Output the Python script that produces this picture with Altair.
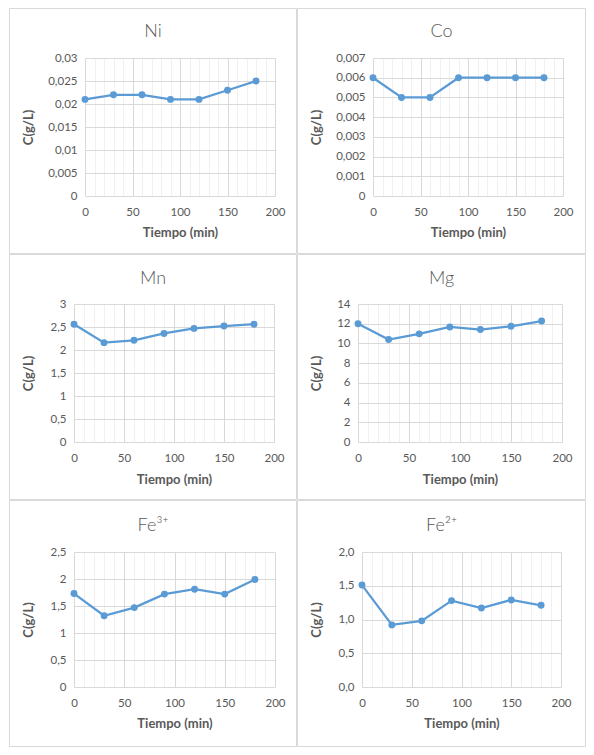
import altair as alt
import pandas as pd

# time axis (min) and concentrations (g/L)
tiempo = [0, 30, 60, 90, 120, 150, 180]
ni = [0.021, 0.022, 0.022, 0.021, 0.021, 0.023, 0.025]
co = [0.006, 0.005, 0.005, 0.006, 0.006, 0.006, 0.006]
mn = [2.56, 2.16, 2.21, 2.36, 2.47, 2.52, 2.56]
mg = [12.0, 10.4, 10.97, 11.67, 11.41, 11.74, 12.27]
fe3 = [1.73, 1.32, 1.47, 1.72, 1.81, 1.72, 1.99]
fe2 = [1.51, 0.92, 0.98, 1.28, 1.17, 1.29, 1.21]

ni_ticks = [0, 0.005, 0.01, 0.015, 0.02, 0.025, 0.03]
co_ticks = [0, 0.001, 0.002, 0.003, 0.004, 0.005, 0.006, 0.007]
mn_ticks = [0, 0.5, 1, 1.5, 2, 2.5, 3]
mg_ticks = [0, 2, 4, 6, 8, 10, 12, 14]
fe3_ticks = [0, 0.5, 1, 1.5, 2, 2.5]
fe2_ticks = [0, 0.5, 1, 1.5, 2]
x_grid = list(range(0, 201, 10))

BLUE = "#5B9BD5"
GREY = "#595959"


def panel(name, conc, yticks, fmt, W, H, left, right, top, bottom, title_y, xtitle_y):
    pw = W - left - right
    ph = H - top - bottom
    df = pd.DataFrame({"t": tiempo, "c": conc})

    line = alt.Chart(df).mark_line(
        color=BLUE, strokeWidth=2.25,
        point=alt.OverlayMarkDef(filled=True, size=48, color=BLUE, opacity=1)
    ).encode(
        x=alt.X("t:Q", scale=alt.Scale(domain=[0, 200], nice=False),
                axis=alt.Axis(values=x_grid, title="Tiempo (min)",
                              labelExpr="datum.value % 50 === 0 ? datum.label : ''",
                              labelFlush=False, labelOverlap=False, labelPadding=10,
                              gridColor={"condition": {"test": "datum.value % 50 === 0",
                                                       "value": "#d9d9d9"},
                                         "value": "#f0f0f0"},
                              titleY=xtitle_y, titleBaseline="middle")),
        y=alt.Y("c:Q", scale=alt.Scale(domain=[0, yticks[-1]], nice=False),
                axis=alt.Axis(values=yticks, title="C(g/L)",
                              labelExpr="replace(format(datum.value, '%s'), '.', ',')" % fmt,
                              labelFlush=False, labelOverlap=False, labelPadding=8,
                              gridColor="#d9d9d9",
                              titleX=19 - left, titleY=ph / 2, titleAngle=270,
                              titleAlign="center", titleBaseline="middle"))
    )

    frame = alt.Chart(pd.DataFrame({"k": [0]})).mark_rect(
        filled=False, stroke="#d9d9d9", strokeWidth=1
    ).encode(
        x=alt.value(0.5 - left), x2=alt.value(W - left - 0.5),
        y=alt.value(0.5 - top), y2=alt.value(H - top - 0.5)
    )

    head = alt.Chart(pd.DataFrame({"n": [name]})).mark_text(
        font="Lato", fontSize=18, fontWeight=300, color=GREY
    ).encode(
        text="n:N", x=alt.value(W / 2 - left), y=alt.value(title_y - top)
    )

    return alt.layer(frame, line, head).properties(width=pw, height=ph)


def spacer():
    # 1px first cell so every row starts at the same left edge
    return alt.Chart(pd.DataFrame({"k": [0]})).mark_text(text="").encode(
        x=alt.value(0), y=alt.value(0)
    ).properties(width=1, height=1)


row1 = alt.hconcat(
    spacer(),
    panel("Ni", ni, ni_ticks, "~g", 288, 246, 76, 22, 50, 58, 24, 36),
    panel("Co", co, co_ticks, "~g", 289, 246, 76, 23, 50, 58, 24, 36),
    spacing=0)
row2 = alt.hconcat(
    spacer(),
    panel("Mn", mn, mn_ticks, "~g", 288, 246, 65, 23, 50, 58, 25, 37),
    panel("Mg", mg, mg_ticks, "~g", 289, 246, 61, 24, 50, 58, 25, 37),
    spacing=0)
row3 = alt.hconcat(
    spacer(),
    panel("Fe³⁺", fe3, fe3_ticks, "~g", 288, 247, 65, 22, 52, 60, 26, 36),
    panel("Fe²⁺", fe2, fe2_ticks, ".1f", 289, 247, 65, 25, 52, 60, 26, 36),
    spacing=0)

chart = alt.vconcat(row1, row2, row3, spacing=0).properties(
    padding=0, background="white"
).configure_view(
    stroke=None
).configure_axis(
    domain=False, ticks=False,
    labelFont="Lato", labelFontSize=11.5, labelColor=GREY,
    titleFont="Lato", titleFontSize=13, titleFontWeight="bold", titleColor=GREY,
    gridWidth=1
)

chart.save("out.html", embed_options={"renderer": "svg", "actions": False})
